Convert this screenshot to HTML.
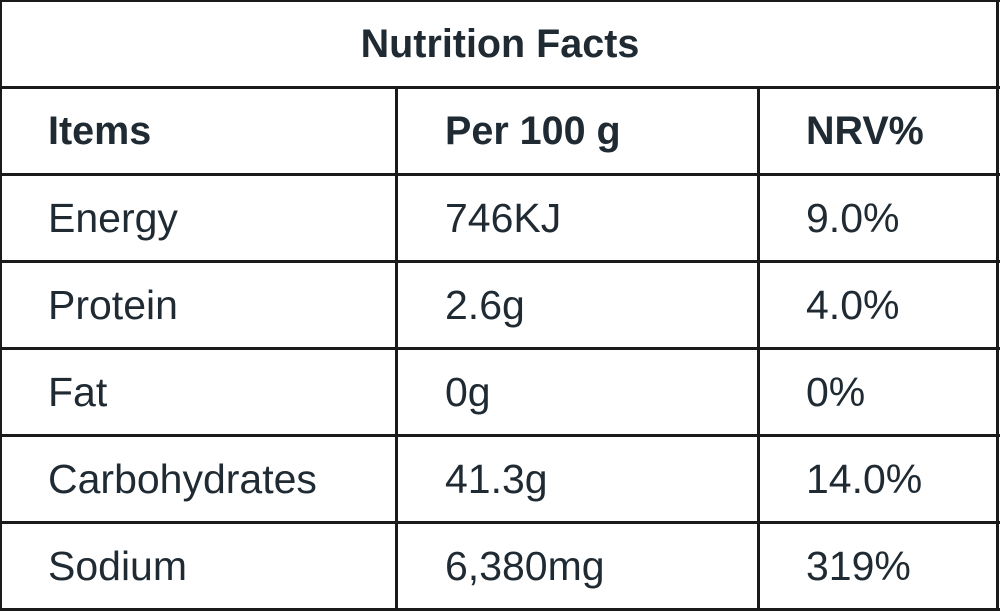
<!DOCTYPE html>
<html><head><meta charset="utf-8"><style>
body{margin:0;width:1000px;height:611px;background:#fff;overflow:hidden;font-family:"Liberation Sans",sans-serif;color:#1f2a33}
.ln{position:absolute;background:#1a1a1a}
.t{position:absolute;font-size:41px;line-height:87px;height:87px;white-space:nowrap}
.b{font-weight:bold;font-size:39.5px}
</style></head><body>
<div style="position:absolute;left:0;top:0;width:1000px;height:611px">
<div class="ln" style="left:0;top:0;width:2px;height:611px"></div>
<div class="ln" style="left:996px;top:0;width:3px;height:611px"></div>
<div class="ln" style="left:0;top:0;width:1000px;height:2px"></div>
<div class="ln" style="left:0;top:608px;width:1000px;height:3px"></div>
<div class="ln" style="left:0;top:86px;width:1000px;height:3px"></div>
<div class="ln" style="left:0;top:173px;width:1000px;height:3px"></div>
<div class="ln" style="left:0;top:260px;width:1000px;height:3px"></div>
<div class="ln" style="left:0;top:347px;width:1000px;height:3px"></div>
<div class="ln" style="left:0;top:434px;width:1000px;height:3px"></div>
<div class="ln" style="left:0;top:521px;width:1000px;height:3px"></div>
<div class="ln" style="left:395px;top:87px;width:3px;height:524px"></div>
<div class="ln" style="left:757px;top:87px;width:3px;height:524px"></div>

<div class="t b" style="left:0;width:1000px;text-align:center;top:1px">Nutrition Facts</div>

<div class="t b" style="left:48px;top:88px">Items</div>
<div class="t b" style="left:445px;top:88px">Per 100 g</div>
<div class="t b" style="left:806px;top:88px">NRV%</div>

<div class="t" style="left:48px;top:175px">Energy</div>
<div class="t" style="left:445px;top:175px">746KJ</div>
<div class="t" style="left:806px;top:175px">9.0%</div>

<div class="t" style="left:48px;top:262px">Protein</div>
<div class="t" style="left:445px;top:262px">2.6g</div>
<div class="t" style="left:806px;top:262px">4.0%</div>

<div class="t" style="left:48px;top:349px">Fat</div>
<div class="t" style="left:445px;top:349px">0g</div>
<div class="t" style="left:806px;top:349px">0%</div>

<div class="t" style="left:48px;top:436px">Carbohydrates</div>
<div class="t" style="left:445px;top:436px">41.3g</div>
<div class="t" style="left:806px;top:436px">14.0%</div>

<div class="t" style="left:48px;top:523px">Sodium</div>
<div class="t" style="left:445px;top:523px">6,380mg</div>
<div class="t" style="left:806px;top:523px">319%</div>
</div>
</body></html>
